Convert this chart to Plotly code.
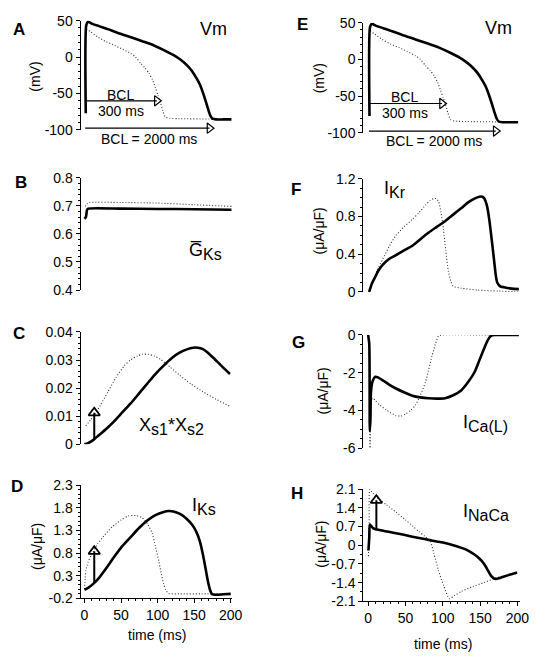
import plotly.graph_objects as go

W, H = 547, 662
FONT = "Liberation Sans"

# ---------------- data ----------------
# Vm (panels A and E)
vm_t_2000 = [1.8, 2.5, 5, 10, 20, 32, 45, 63.5, 80, 95, 110, 122, 132, 140, 147, 153, 158, 162, 166, 169, 172, 175, 180, 190, 201]
vm_v_2000 = [-77, 44, 48.5, 46, 42.5, 38.4, 33.5, 27.2, 21.5, 16, 9, 2.7, -4, -11, -19, -28.6, -38, -48.7, -61, -71, -80, -84.5, -85.5, -85.5, -85.5]
vm_t_300 = [2.5, 8, 18.8, 30, 41.2, 52, 63.5, 70, 76.9, 83, 88.1, 93, 97, 100.5, 103.8, 107, 110.5, 116.8, 130, 170, 201]
vm_v_300 = [38.5, 35, 27.2, 21, 16.1, 11, 4.9, 0, -8.5, -15, -21.9, -31, -42, -52, -62, -73, -82, -84, -84.5, -85, -85.5]

# G_Ks (panel B)
gks_t_2000 = [0, 2, 3.5, 5, 50, 100, 150, 201]
gks_v_2000 = [0.654, 0.66, 0.685, 0.69, 0.69, 0.689, 0.688, 0.686]
gks_t_300 = [1, 4, 7, 50, 100, 150, 201]
gks_v_300 = [0.698, 0.708, 0.712, 0.712, 0.71, 0.704, 0.698]

# Xs1*Xs2 (panel C)
xs_t_2000 = [0, 5, 9.8, 13.4, 18.8, 30, 41.2, 52, 63.5, 75, 85.9, 97, 108.3, 120, 130.6, 140, 148.6, 155, 162, 168, 175.4, 187, 199]
xs_v_2000 = [0, 0.0004, 0.0011, 0.0018, 0.003, 0.0055, 0.0083, 0.0114, 0.0146, 0.0182, 0.0216, 0.025, 0.028, 0.0308, 0.0327, 0.0338, 0.0344, 0.0344, 0.0339, 0.0328, 0.031, 0.028, 0.025]
xs_t_300 = [1.8, 8, 14.3, 22, 32.2, 43, 54.6, 63, 72.5, 80, 88.2, 96, 103.8, 117, 130.6, 146, 162, 180, 199]
xs_v_300 = [0.0065, 0.0085, 0.0106, 0.014, 0.0187, 0.0237, 0.028, 0.030, 0.0315, 0.0321, 0.032, 0.0314, 0.0303, 0.0275, 0.0245, 0.0214, 0.0187, 0.016, 0.0135]

# I_Ks (panel D)
iks_t_2000 = [0, 5, 12, 18.8, 30, 41.2, 52, 63.5, 75, 85.9, 97, 108.3, 115, 121.7, 130, 139.6, 147, 153, 158, 162, 165.5, 168.7, 171.5, 174.5, 180, 190, 200]
iks_v_2000 = [-0.01, 0.03, 0.12, 0.23, 0.47, 0.73, 0.96, 1.16, 1.36, 1.52, 1.64, 1.71, 1.73, 1.72, 1.67, 1.56, 1.43, 1.27, 1.05, 0.77, 0.47, 0.19, 0.0, -0.11, -0.12, -0.11, -0.1]
iks_t_300 = [0, 1, 1.8, 5, 9.8, 18, 27.7, 38, 50, 60, 70, 79, 86, 92.6, 97, 101.6, 105, 108.3, 111.5, 115, 130, 160, 200]
iks_v_300 = [0, 0.25, 0.41, 0.6, 0.77, 1.0, 1.2, 1.38, 1.53, 1.62, 1.63, 1.58, 1.45, 1.24, 0.95, 0.63, 0.35, 0.12, -0.02, -0.09, -0.1, -0.1, -0.1]

# I_Kr (panel F)
ikr_t_2000 = [1.3, 5, 8.8, 14, 19.7, 28, 37.3, 48, 59.2, 70, 81.1, 92, 103, 114, 125, 134, 142.5, 149, 153, 155.7, 159, 162.3, 165.5, 169, 171, 173, 177, 182, 192, 202]
ikr_v_2000 = [0, 0.09, 0.15, 0.23, 0.29, 0.35, 0.39, 0.44, 0.49, 0.56, 0.63, 0.69, 0.75, 0.82, 0.89, 0.95, 0.99, 1.01, 1.01, 0.99, 0.92, 0.77, 0.56, 0.32, 0.18, 0.1, 0.06, 0.05, 0.035, 0.03]
ikr_t_300 = [1.3, 6.6, 12, 19.7, 28, 37.3, 48, 59.2, 68, 76.8, 83, 87.8, 91, 94.3, 97.5, 100.9, 104, 107.5, 111, 114, 125, 147, 175, 202]
ikr_v_300 = [0, 0.11, 0.23, 0.35, 0.48, 0.6, 0.69, 0.77, 0.84, 0.92, 0.97, 0.99, 0.99, 0.96, 0.85, 0.66, 0.44, 0.22, 0.11, 0.06, 0.04, 0.02, 0.01, 0.0]

# I_Ca(L) (panel G)
ica_t_2000 = [0, 1.5, 2.2, 3, 3.8, 6, 9.5, 13, 19.7, 28, 37.3, 48, 59.2, 70, 81.1, 92, 103, 114, 125, 134, 142.5, 149, 155.7, 160, 164.5, 170, 180, 202]
ica_v_2000 = [0, -0.5, -5.1, -4.5, -3.0, -2.45, -2.22, -2.25, -2.41, -2.63, -2.84, -3.04, -3.22, -3.31, -3.36, -3.38, -3.36, -3.2, -2.93, -2.5, -1.98, -1.35, -0.69, -0.3, -0.05, 0, 0, 0]
ica_t_300 = [0, 1.5, 2.5, 3.5, 5, 6.6, 10, 15.4, 25, 37.3, 44, 50.4, 57, 63.5, 70, 76.8, 81, 85.5, 90, 94.3, 100, 150, 202]
ica_v_300 = [0, -1, -6, -4.5, -3.4, -3.36, -3.5, -3.71, -4.0, -4.28, -4.3, -4.19, -4.0, -3.71, -3.2, -2.5, -1.85, -1.12, -0.5, -0.05, 0, 0, 0]

# I_NaCa (panel H)
inaca_t_2000 = [0.4, 1.5, 2.2, 4, 6.6, 10, 15.4, 25, 37.3, 48, 59.2, 70, 81.1, 92, 103, 114, 125, 134, 142.5, 149, 155.7, 160, 164.5, 168, 171, 174, 177.6, 188, 199.6]
inaca_v_2000 = [-0.2, 0.3, 0.77, 0.72, 0.64, 0.6, 0.57, 0.51, 0.45, 0.39, 0.32, 0.26, 0.2, 0.14, 0.08, 0.0, -0.1, -0.2, -0.35, -0.5, -0.71, -0.92, -1.14, -1.23, -1.26, -1.25, -1.22, -1.12, -1.02]
inaca_t_300 = [0.4, 1.3, 2.2, 5, 15, 25, 37.3, 50, 60, 68, 76, 83.3, 88, 94.3, 101, 108.8, 115, 125, 140, 155, 169, 185, 199.6]
inaca_v_300 = [-0.41, 0.8, 2.09, 1.98, 1.72, 1.5, 1.24, 0.95, 0.71, 0.51, 0.33, 0.15, -0.3, -0.95, -1.5, -2.0, -1.9, -1.73, -1.55, -1.4, -1.25, -1.12, -1.02]

# arrows (annotation marks)
bcl300_t = [1, 99]
bcl300_v = -60
bcl2000_t = [1, 171]
bcl2000_v = -97.5
arrow_c = dict(t=13.4, v=[0.0018, 0.0112])
arrow_d = dict(t=13.4, v=[0.14, 0.84])
arrow_h = dict(t=11, v=[0.6, 1.68])

# tick labels
ticks_vm = [-100, -50, 0, 50]
ticks_gks = [0.4, 0.5, 0.6, 0.7, 0.8]
ticks_xs = [0, 0.01, 0.02, 0.03, 0.04]
ticks_iks = [-0.2, 0.3, 0.8, 1.3, 1.8, 2.3]
ticks_ikr = [0, 0.4, 0.8, 1.2]
ticks_ica = [-6, -4, -2, 0]
ticks_inaca = [-2.1, -1.4, -0.7, 0, 0.7, 1.4, 2.1]
ticks_time = [0, 50, 100, 150, 200]

# ---------------- layout helpers ----------------
def px_x(p):
    return p / W

def px_y(p):
    return 1 - p / H

LEFT = (82, 236.5, -5.4, 202)
RIGHT = (370, 529.3, -6.6, 203)
TICKFONT = 14

panels = [
    ("A", LEFT, 13, 125, [-100, 50], ticks_vm, 10, False),
    ("B", LEFT, 174, 289, [0.4, 0.8], ticks_gks, 0.02, False),
    ("C", LEFT, 332, 447, [0, 0.04], ticks_xs, 0.002, False),
    ("D", LEFT, 489, 605, [-0.2, 2.3], ticks_iks, 0.1, True),
    ("E", RIGHT, 15, 128, [-100, 50], ticks_vm, 10, False),
    ("F", RIGHT, 175, 291, [0, 1.2], ticks_ikr, 0.1, False),
    ("G", RIGHT, 335, 451, [-6, 0], ticks_ica, 0.5, False),
    ("H", RIGHT, 493, 608, [-2.1, 2.1], ticks_inaca, 0.35, True),
]

def fmt(v):
    return "%g" % v

fig = go.Figure()
layout = {}
for i, (name, col, top, bot, yr, tv, mdt, showx) in enumerate(panels, start=1):
    x0, x1, tmin, tmax = col
    xa = "xaxis" if i == 1 else f"xaxis{i}"
    ya = "yaxis" if i == 1 else f"yaxis{i}"
    layout[xa] = dict(
        domain=[px_x(x0), px_x(x1)], range=[tmin, tmax], anchor=f"y{i if i > 1 else ''}",
        showgrid=False, zeroline=False, visible=showx,
        showline=showx, linecolor="black", linewidth=1,
        ticks="outside", ticklen=4, tickwidth=1, tickcolor="black",
        tickmode="array", tickvals=ticks_time, ticktext=[fmt(v) for v in ticks_time],
        minor=dict(ticks="outside", ticklen=2, tickwidth=1, tickcolor="black", tickmode="linear", tick0=0, dtick=10),
        tickfont=dict(family=FONT, size=TICKFONT, color="black"),
    )
    layout[ya] = dict(
        domain=[px_y(bot), px_y(top)], range=yr, anchor=f"x{i if i > 1 else ''}",
        showgrid=False, zeroline=False, showline=True, linecolor="black", linewidth=1,
        ticks="outside", ticklen=4, tickwidth=1, tickcolor="black",
        tickmode="array", tickvals=tv, ticktext=[fmt(v) for v in tv],
        minor=dict(ticks="outside", ticklen=2, tickwidth=1, tickcolor="black", tickmode="linear", tick0=yr[0], dtick=mdt),
        tickfont=dict(family=FONT, size=TICKFONT, color="black"),
    )

series = [
    (1, vm_t_2000, vm_v_2000, vm_t_300, vm_v_300),
    (2, gks_t_2000, gks_v_2000, gks_t_300, gks_v_300),
    (3, xs_t_2000, xs_v_2000, xs_t_300, xs_v_300),
    (4, iks_t_2000, iks_v_2000, iks_t_300, iks_v_300),
    (5, vm_t_2000, vm_v_2000, vm_t_300, vm_v_300),
    (6, ikr_t_2000, ikr_v_2000, ikr_t_300, ikr_v_300),
    (7, ica_t_2000, ica_v_2000, ica_t_300, ica_v_300),
    (8, inaca_t_2000, inaca_v_2000, inaca_t_300, inaca_v_300),
]

def axref(i):
    return ("x" if i == 1 else f"x{i}"), ("y" if i == 1 else f"y{i}")

for i, t2, v2, t3, v3 in series:
    xr, yr_ = axref(i)
    fig.add_trace(go.Scatter(x=t3, y=v3, mode="lines", xaxis=xr, yaxis=yr_,
                             line=dict(color="#333", width=1.1, dash="1px,2px", shape="spline", smoothing=0.6),
                             showlegend=False, hoverinfo="skip"))
    fig.add_trace(go.Scatter(x=t2, y=v2, mode="lines", xaxis=xr, yaxis=yr_,
                             line=dict(color="black", width=2.6, shape="spline", smoothing=0.6),
                             showlegend=False, hoverinfo="skip"))

# BCL arrows in A and E
for i in (1, 5):
    xr, yr_ = axref(i)
    for tt, vv in ((bcl300_t, bcl300_v), (bcl2000_t, bcl2000_v)):
        fig.add_trace(go.Scatter(x=tt, y=[vv, vv], mode="lines", xaxis=xr, yaxis=yr_,
                                 line=dict(color="black", width=1.2), showlegend=False, hoverinfo="skip"))
        fig.add_trace(go.Scatter(x=[tt[1]], y=[vv], mode="markers", xaxis=xr, yaxis=yr_, cliponaxis=False,
                                 marker=dict(symbol="triangle-right-open", size=9, color="black", line=dict(width=1.2)),
                                 showlegend=False, hoverinfo="skip"))

# vertical arrows in C, D, H
for i, arr in ((3, arrow_c), (4, arrow_d), (8, arrow_h)):
    xr, yr_ = axref(i)
    fig.add_trace(go.Scatter(x=[arr["t"], arr["t"]], y=arr["v"], mode="lines", xaxis=xr, yaxis=yr_,
                             line=dict(color="black", width=2), showlegend=False, hoverinfo="skip"))
    fig.add_trace(go.Scatter(x=[arr["t"]], y=[arr["v"][1]], mode="markers", xaxis=xr, yaxis=yr_, cliponaxis=False,
                             marker=dict(symbol="triangle-up-open", size=10, color="black", line=dict(width=1.8)),
                             showlegend=False, hoverinfo="skip"))

ann = []
def text(px, py, s, size=14, bold=False, angle=0):
    ann.append(dict(x=px_x(px), y=px_y(py), xref="paper", yref="paper", text=(f"<b>{s}</b>" if bold else s),
                    showarrow=False, xanchor="center", yanchor="middle", textangle=angle,
                    font=dict(family=FONT, size=size, color="black")))

def sub(s):
    return f"<sub><span style='font-size:16px'>{s}</span></sub>"

# panel letters
for s, px, py in (("A", 19, 22), ("B", 21, 179), ("C", 19, 334), ("D", 17, 490),
                  ("E", 308, 17), ("F", 302, 186), ("G", 304, 343), ("H", 303, 498)):
    text(px, py, s, size=17, bold=True)

# y titles
text(36, 70, "(mV)", 14, angle=-90)
text(37, 552, "(μA/μF)", 14, angle=-90)
text(325, 72, "(mV)", 14, angle=-90)
text(325, 229, "(μA/μF)", 14, angle=-90)
text(328, 393, "(μA/μF)", 14, angle=-90)
text(327, 550, "(μA/μF)", 14, angle=-90)

# x titles
text(160, 643, "time (ms)", 14)
text(451, 652, "time (ms)", 14)

# BCL text
text(123, 89, "BCL", 14)
text(123, 106, "300 ms", 14)
text(152, 134, "BCL = 2000 ms", 14)
text(412, 91, "BCL", 14)
text(413, 108, "300 ms", 14)
text(442, 136, "BCL = 2000 ms", 14)

# trace labels
text(217, 22, "Vm", 18)
text(508, 20, "Vm", 18)
text(209, 250, "G\u0305" + sub("Ks"), 18)
text(175, 429, "X" + sub("s1") + "*X" + sub("s2"), 18)
text(208, 511, "I" + sub("Ks"), 18)
text(402, 186, "I" + sub("Kr"), 18)
text(495, 426, "I" + sub("Ca(L)"), 18)
text(495, 517, "I" + sub("NaCa"), 18)

layout.update(dict(width=W, height=H, margin=dict(l=0, r=0, t=0, b=0),
                   paper_bgcolor="white", plot_bgcolor="white", annotations=ann,
                   font=dict(family=FONT, size=14, color="black")))
fig.update_layout(**layout)
fig.write_html("out.html")
